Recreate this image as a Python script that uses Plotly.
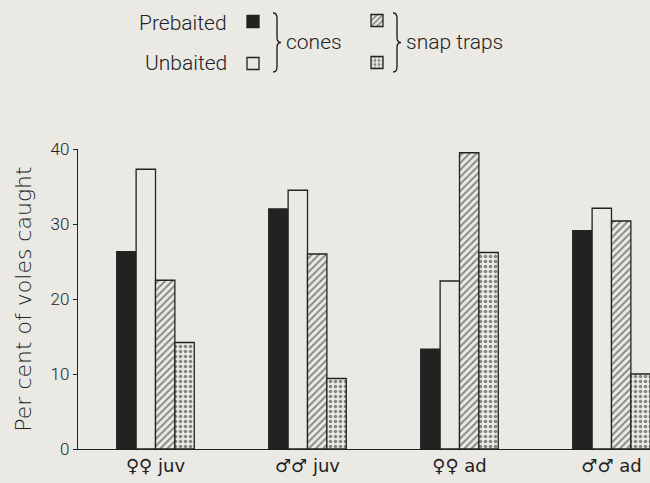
import plotly.graph_objects as go

# ---- data ----
groups = ["♀♀ juv", "♂♂ juv", "♀♀ ad", "♂♂ ad"]
group_pos = [0, 1, 2, 3]
prebaited_cones = [26.3, 32.0, 13.3, 29.1]
unbaited_cones = [37.3, 34.5, 22.4, 32.1]
prebaited_snap = [22.5, 26.0, 39.5, 30.4]
unbaited_snap = [14.2, 9.4, 26.2, 10.0]
y_ticks = [0, 10, 20, 30, 40]

# ---- styling ----
W, H = 650, 483
ML, MR, MT, MB = 78, 0, 149, 34
PW, PH = W - ML - MR, H - MT - MB
BG = "#eae9e4"
INK = "#222222"
FONT = "Roboto, DejaVu Sans, sans-serif"
WIDE = "DejaVu Sans, Roboto, sans-serif"


def px_x(px):
    return (px - ML) / PW


def px_y(py):
    return (MT + PH - py) / PH


series = [
    ("Prebaited cones", prebaited_cones, INK, "", "legend"),
    ("Unbaited cones", unbaited_cones, BG, "", "legend"),
    ("Prebaited snap traps", prebaited_snap, BG, "/", "legend2"),
    ("Unbaited snap traps", unbaited_snap, BG, ".", "legend2"),
]

fig = go.Figure()
for name, vals, color, shape, leg in series:
    marker = dict(color=color, line=dict(color=INK, width=1.3))
    if shape:
        marker["pattern"] = dict(shape=shape, fgcolor=INK, bgcolor=BG, size=5,
                                 solidity=0.38 if shape == "/" else 0.4,
                                 fillmode="overlay")
    # legend key labels are drawn as annotations (left of the keys, as in the original)
    fig.add_trace(go.Bar(
        x=group_pos, y=vals, name=" ", marker=marker, legend=leg,
        legendgroup=name, showlegend=True,
        hovertemplate="%{y}<extra>" + name + "</extra>",
    ))

fig.update_layout(
    width=W, height=H,
    margin=dict(l=ML, r=MR, t=MT, b=MB),
    paper_bgcolor=BG, plot_bgcolor=BG,
    barmode="group", bargap=0.49, bargroupgap=0,
    font=dict(family=FONT, color=INK, size=16),
    legend=dict(x=px_x(233), y=px_y(7), xanchor="left", yanchor="top",
                bgcolor="rgba(0,0,0,0)", font=dict(size=10), tracegroupgap=23,
                traceorder="grouped", itemwidth=30),
    legend2=dict(x=px_x(357), y=px_y(6), xanchor="left", yanchor="top",
                 bgcolor="rgba(0,0,0,0)", font=dict(size=10), tracegroupgap=23,
                 traceorder="grouped", itemwidth=30),
    xaxis=dict(range=[-(155.5 - ML) / 152, 3 + (W - 611.5) / 152],
               tickvals=group_pos, ticktext=groups,
               showgrid=False, zeroline=False,
               showline=True, linecolor=INK, linewidth=1.3, ticks="",
               tickfont=dict(size=18, family="DejaVu Sans, sans-serif"), fixedrange=True),
    yaxis=dict(range=[0, 40], tickvals=y_ticks, showgrid=False, zeroline=False,
               showline=True, linecolor=INK, linewidth=1.3, ticks="outside",
               ticklen=4, tickwidth=1.3, tickcolor=INK,
               tickfont=dict(size=17, family=FONT, weight=300),
               title=dict(text="Per cent of voles caught", standoff=12,
                          font=dict(size=22, family=WIDE, weight=300)),
               fixedrange=True),
)

# legend texts
ann = [
    ("Prebaited", 229, 23, "right"),
    ("Unbaited", 229, 63, "right"),
    ("cones", 284, 42, "left"),
    ("snap traps", 404, 42, "left"),
]
for text, x, y, anchor in ann:
    fig.add_annotation(text=text, x=px_x(x), y=px_y(y), xref="paper", yref="paper",
                       xanchor=anchor, yanchor="middle", showarrow=False,
                       font=dict(size=21, family=FONT, color=INK, weight=300))


def brace(x0, top, bot, w=8):
    mid = (top + bot) / 2
    xm = x0 + w / 2
    r = 5
    pts = [
        f"M {px_x(x0)},{px_y(top)}",
        f"Q {px_x(xm)},{px_y(top)} {px_x(xm)},{px_y(top + r)}",
        f"L {px_x(xm)},{px_y(mid - r)}",
        f"Q {px_x(xm)},{px_y(mid)} {px_x(x0 + w)},{px_y(mid)}",
        f"Q {px_x(xm)},{px_y(mid)} {px_x(xm)},{px_y(mid + r)}",
        f"L {px_x(xm)},{px_y(bot - r)}",
        f"Q {px_x(xm)},{px_y(bot)} {px_x(x0)},{px_y(bot)}",
    ]
    return " ".join(pts)


for bx in (273, 393):
    fig.add_shape(type="path", path=brace(bx, 13, 72), xref="paper", yref="paper",
                  line=dict(color=INK, width=1.4))

fig.write_html("out.html", config={"displayModeBar": False},
               post_script="document.body.style.margin='0';")
